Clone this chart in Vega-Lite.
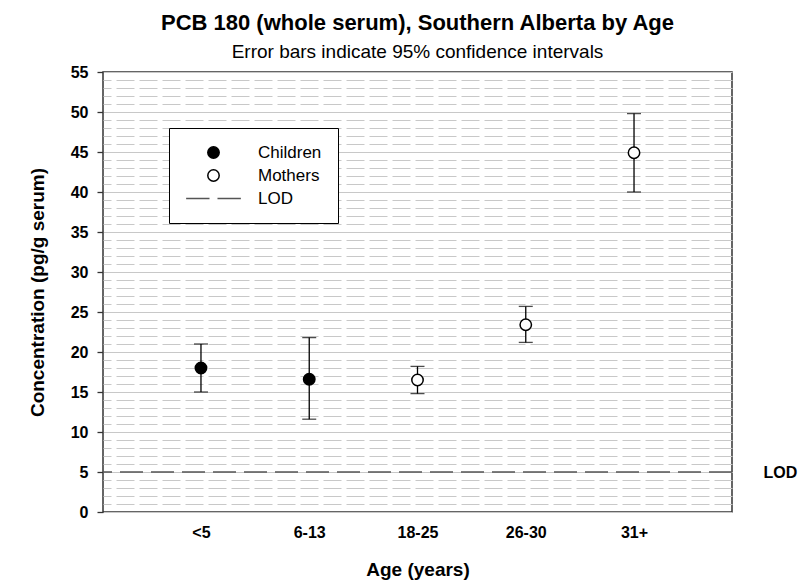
{
  "$schema": "https://vega.github.io/schema/vega-lite/v6.json",
  "width": 629,
  "height": 440,
  "autosize": {"type": "none"},
  "padding": {"left": 103, "top": 72, "right": 71, "bottom": 76},
  "background": "white",
  "config": {
    "font": "Liberation Sans",
    "view": {"stroke": "#333333", "strokeWidth": 1.5}
  },
  "title": {
    "text": "PCB 180 (whole serum), Southern Alberta by Age",
    "subtitle": "Error bars indicate 95% confidence intervals",
    "fontSize": 22,
    "fontWeight": "bold",
    "color": "black",
    "subtitleFontSize": 19,
    "subtitleColor": "black",
    "subtitlePadding": 8,
    "anchor": "middle",
    "frame": "group",
    "offset": 1
  },
  "datasets": {
    "pcb": [
      {"age": "<5", "group": "Children", "conc": 18.0, "lower": 15.0, "upper": 21.0},
      {"age": "6-13", "group": "Children", "conc": 16.6, "lower": 11.6, "upper": 21.8},
      {"age": "18-25", "group": "Mothers", "conc": 16.5, "lower": 14.8, "upper": 18.2},
      {"age": "26-30", "group": "Mothers", "conc": 23.4, "lower": 21.2, "upper": 25.7},
      {"age": "31+", "group": "Mothers", "conc": 44.9, "lower": 40.0, "upper": 49.8}
    ],
    "lod": [{"limit": "LOD", "value": 5}]
  },
  "layer": [
    {
      "data": {"name": "lod"},
      "mark": {"type": "rule", "strokeDash": [23, 8], "color": "#555555", "strokeWidth": 1.5},
      "encoding": {
        "y": {
          "field": "value",
          "type": "quantitative",
          "scale": {"domain": [0, 55], "nice": false, "zero": true},
          "axis": {
            "orient": "right",
            "values": [1,2,3,4,5,6,7,8,9,11,12,13,14,16,17,18,19,21,22,23,24,26,27,28,29,31,32,33,34,36,37,38,39,41,42,43,44,46,47,48,49,51,52,53,54],
            "grid": true,
            "gridDash": [18, 5],
            "gridColor": "#c8c8c8",
            "gridWidth": 1,
            "ticks": false,
            "domain": false,
            "labelExpr": "datum.value == 5 ? 'LOD' : ''",
            "labelOverlap": false,
            "labelFontWeight": "bold",
            "labelFontSize": 16,
            "labelColor": "black",
            "labelPadding": 31,
            "title": null
          }
        }
      }
    },
    {
      "data": {"name": "pcb"},
      "mark": {"type": "rule", "color": "black", "strokeWidth": 1.3},
      "encoding": {
        "x": {
          "field": "age",
          "type": "ordinal",
          "sort": ["<5", "6-13", "18-25", "26-30", "31+"],
          "scale": {"type": "point", "padding": 0.905},
          "axis": {
            "title": "Age (years)",
            "labelAngle": 0,
            "labelFontWeight": "bold",
            "labelFontSize": 16,
            "labelColor": "black",
            "labelPadding": 12,
            "ticks": false,
            "domain": false,
            "grid": false,
            "titleFontSize": 19,
            "titleFontWeight": "bold",
            "titleColor": "black",
            "titlePadding": 20
          }
        },
        "y": {
          "field": "lower",
          "type": "quantitative",
          "scale": {"domain": [0, 55], "nice": false, "zero": true},
          "axis": {
            "values": [0, 5, 10, 15, 20, 25, 30, 35, 40, 45, 50, 55],
            "grid": true,
            "gridColor": "#c8c8c8",
            "gridWidth": 1,
            "tickSize": 6,
            "tickColor": "#333333",
            "tickWidth": 1.3,
            "domain": false,
            "labelFontWeight": "bold",
            "labelFontSize": 16,
            "labelColor": "black",
            "labelPadding": 9,
            "title": "Concentration (pg/g serum)",
            "titleFontSize": 19,
            "titleFontWeight": "bold",
            "titleColor": "black",
            "titlePadding": 23
          }
        },
        "y2": {"field": "upper"}
      }
    },
    {
      "data": {"name": "pcb"},
      "mark": {"type": "tick", "orient": "horizontal", "size": 14, "thickness": 1.3, "color": "black"},
      "encoding": {
        "x": {"field": "age", "type": "ordinal", "sort": ["<5", "6-13", "18-25", "26-30", "31+"], "scale": {"type": "point", "padding": 0.905}},
        "y": {"field": "lower", "type": "quantitative", "axis": null}
      }
    },
    {
      "data": {"name": "pcb"},
      "mark": {"type": "tick", "orient": "horizontal", "size": 14, "thickness": 1.3, "color": "black"},
      "encoding": {
        "x": {"field": "age", "type": "ordinal", "sort": ["<5", "6-13", "18-25", "26-30", "31+"], "scale": {"type": "point", "padding": 0.905}},
        "y": {"field": "upper", "type": "quantitative", "axis": null}
      }
    },
    {
      "data": {"name": "pcb"},
      "mark": {"type": "point", "size": 130, "strokeWidth": 1.5, "opacity": 1},
      "encoding": {
        "x": {"field": "age", "type": "ordinal", "sort": ["<5", "6-13", "18-25", "26-30", "31+"], "scale": {"type": "point", "padding": 0.905}},
        "y": {"field": "conc", "type": "quantitative", "axis": null},
        "shape": {
          "field": "group",
          "type": "nominal",
          "scale": {"domain": ["Children", "Mothers", "LOD"], "range": ["circle", "circle", "M-4.8,0H-0.7M0.7,0H4.8"]},
          "legend": {
            "title": null,
            "orient": "none",
            "legendX": 66,
            "legendY": 56,
            "direction": "vertical",
            "strokeColor": "black",
            "fillColor": "white",
            "padding": 16,
            "labelFontSize": 17,
            "labelColor": "black",
            "symbolSize": 130,
            "symbolStrokeWidth": 1.5,
            "symbolOffset": 20,
            "labelOffset": 36,
            "rowPadding": 4
          }
        },
        "fill": {
          "field": "group",
          "type": "nominal",
          "scale": {"domain": ["Children", "Mothers", "LOD"], "range": ["black", "white", "transparent"]},
          "legend": {
            "title": null,
            "orient": "none",
            "legendX": 66,
            "legendY": 56,
            "direction": "vertical",
            "strokeColor": "black",
            "fillColor": "white",
            "padding": 16,
            "labelFontSize": 17,
            "labelColor": "black",
            "symbolSize": 130,
            "symbolStrokeWidth": 1.5,
            "symbolOffset": 20,
            "labelOffset": 36,
            "rowPadding": 4
          }
        },
        "stroke": {
          "field": "group",
          "type": "nominal",
          "scale": {"domain": ["Children", "Mothers", "LOD"], "range": ["black", "black", "#555555"]},
          "legend": {
            "title": null,
            "orient": "none",
            "legendX": 66,
            "legendY": 56,
            "direction": "vertical",
            "strokeColor": "black",
            "fillColor": "white",
            "padding": 16,
            "labelFontSize": 17,
            "labelColor": "black",
            "symbolSize": 130,
            "symbolStrokeWidth": 1.5,
            "symbolOffset": 20,
            "labelOffset": 36,
            "rowPadding": 4
          }
        }
      }
    }
  ],
  "resolve": {"axis": {"y": "independent"}}
}
